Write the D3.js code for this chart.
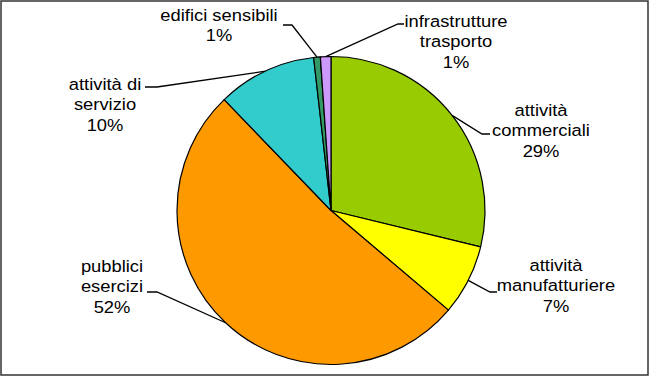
<!DOCTYPE html>
<html>
<head>
<meta charset="utf-8">
<script src="https://cdn.jsdelivr.net/npm/d3@7"></script>
<style>
  html, body { margin: 0; padding: 0; background: #fff; }
  svg { display: block; }
  text { font-family: Arial, "Liberation Sans", sans-serif; font-size: 17px; fill: #000; }
</style>
</head>
<body>
<svg id="chart" width="650" height="377"></svg>
<script>
// ---- data ----
const categories = ["attività commerciali", "attività manufatturiere", "pubblici esercizi",
                    "attività di servizio", "edifici sensibili", "infrastrutture trasporto"];
const labelLines = [["attività", "commerciali"], ["attività", "manufatturiere"], ["pubblici", "esercizi"],
                    ["attività di", "servizio"], ["edifici sensibili"], ["infrastrutture", "trasporto"]];
const values = [28.8, 7.4, 51.6, 10.4, 0.7, 1.1];
const colors = ["#99CC00", "#FFFF00", "#FF9900", "#33CCCC", "#339966", "#CC99FF"];

// ---- layout (label placement, not data) ----
const labelLayout = [
  { tx: 541, ty: 116, ex: 490, ey: 134, elbow: -8 },
  { tx: 556, ty: 271, ex: 497, ey: 292, elbow: -7 },
  { tx: 112, ty: 272, ex: 147, ey: 292, elbow: 10 },
  { tx: 105, ty: 90,  ex: 145, ey: 87,  elbow: 12 },
  { tx: 219, ty: 21,  ex: 283, ey: 25,  elbow: 9 },
  { tx: 456, ty: 27,  ex: 404, ey: 24,  elbow: -6 }
];

const W = 650, H = 377;
const cx = 331, cy = 210.5, R = 154;
const lineH = 20.5;
const textStretch = 1.08;

const svg = d3.select("#chart");

svg.append("rect")
  .attr("x", 1).attr("y", 1).attr("width", 647).attr("height", 374)
  .attr("fill", "#fff").attr("stroke", "#333").attr("stroke-width", 1.5);

const total = d3.sum(values);
const pie = d3.pie().sort(null).value(d => d)(values);
const arc = d3.arc().innerRadius(0).outerRadius(R);

const g = svg.append("g").attr("transform", `translate(${cx},${cy})`);

g.selectAll("path.slice").data(pie).join("path")
  .attr("class", "slice")
  .attr("d", arc)
  .attr("fill", (d, i) => colors[i])
  .attr("stroke", "#000")
  .attr("stroke-width", 1.2)
  .attr("stroke-linejoin", "round");

// leader lines
pie.forEach((d, i) => {
  const a = (d.startAngle + d.endAngle) / 2;
  const px = cx + R * Math.sin(a);
  const py = cy - R * Math.cos(a);
  const L = labelLayout[i];
  const ex = L.ex, ey = L.ey, bx = L.ex + L.elbow;
  svg.append("path")
    .attr("d", `M${px},${py}L${bx},${ey}L${ex},${ey}`)
    .attr("fill", "none").attr("stroke", "#000").attr("stroke-width", 1.3);
});

// labels
pie.forEach((d, i) => {
  const L = labelLayout[i];
  const lines = labelLines[i].concat([Math.round(values[i] / total * 100) + "%"]);
  const t = svg.append("text")
    .attr("text-anchor", "middle")
    .attr("transform", `translate(${L.tx},0) scale(${textStretch},1)`);
  lines.forEach((s, k) => {
    t.append("tspan").attr("x", 0).attr("y", L.ty + k * lineH).text(s);
  });
});
</script>
</body>
</html>
